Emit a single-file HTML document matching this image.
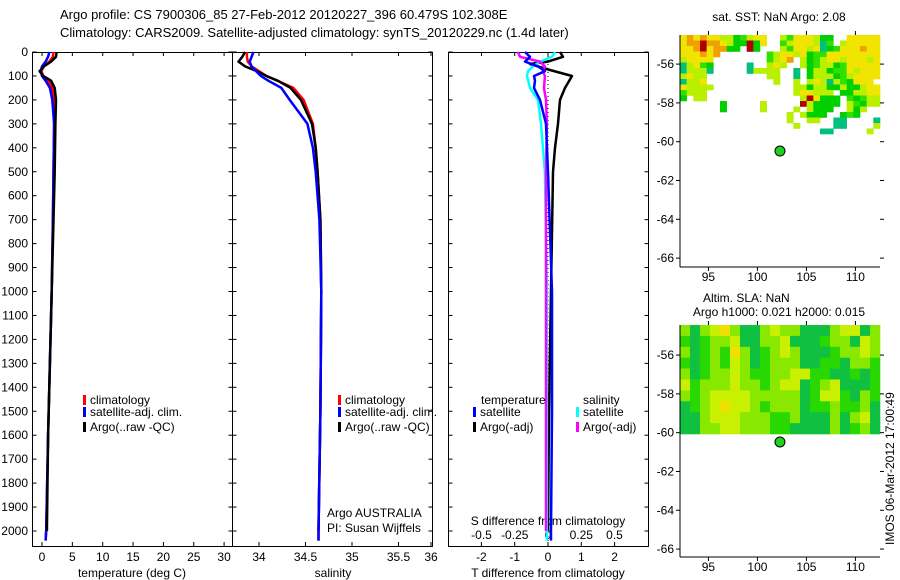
<!DOCTYPE html>
<html><head><meta charset="utf-8"><style>
html,body{margin:0;padding:0;background:#fff}
svg{display:block;font-family:"Liberation Sans",sans-serif}
text{font-size:12px;fill:#000}
</style></head><body>
<svg id="c" width="900" height="580" viewBox="0 0 900 580">
<text x="60" y="19" style="font-size:13px">Argo profile: CS 7900306_85 27-Feb-2012 20120227_396 60.479S 102.308E</text>
<text x="60" y="37" style="font-size:13px">Climatology: CARS2009. Satellite-adjusted climatology: synTS_20120229.nc (1.4d later)</text>
</svg>
<script>
const NS='http://www.w3.org/2000/svg';
const svg=document.getElementById('c');
// ---- data ----
const tDepths=[0,20,40,60,80,100,120,150,200,300,500,700,1000,1300,1600,2000,2040];
const tClim=[1.9,1.8,1.2,0.3,-0.1,0.2,1.0,1.7,2.0,2.0,1.9,1.8,1.6,1.3,1.0,0.7,0.6];
const tSat=[1.2,1.0,0.6,0.0,-0.2,0.0,0.6,1.3,1.7,2.0,1.9,1.8,1.6,1.3,1.0,0.7,0.6];
const tArgoDepths=[0,20,40,60,80,100,120,150,200,300,500,700,1000,1300,1600,2000];
const tArgo=[2.4,2.3,1.5,0.3,-0.4,0.2,1.5,2.1,2.3,2.2,2.1,1.9,1.6,1.3,1.0,0.8];
const sDepths=[0,20,40,60,80,100,120,150,200,300,400,500,700,1000,1500,2000,2040];
const sClim=[33.87,33.87,33.88,33.92,34.0,34.08,34.2,34.37,34.48,34.58,34.61,34.63,34.66,34.67,34.66,34.64,34.64];
const sSat=[33.94,33.92,33.9,33.92,33.97,34.02,34.1,34.24,34.33,34.52,34.58,34.61,34.65,34.67,34.66,34.64,34.64];
const sArgoDepths=[0,20,40,60,80,100,120,150,200,300,400,500,700,1000,1500,2000];
const sArgo=[33.85,33.82,33.78,33.85,33.98,34.08,34.2,34.34,34.45,34.57,34.61,34.63,34.66,34.67,34.66,34.64];
const dtSatDepths=[0,20,40,60,80,100,120,150,200,300,500,1000,1500,2000,2040];
const dtSat=[-0.69,-0.54,-0.69,-0.30,-0.09,-0.42,-0.39,-0.42,-0.24,-0.06,0,0.12,0.12,0.09,0.09];
const dtArgoDepths=[0,20,40,50,75,100,150,200,300,400,500,1000,1500,2000];
const dtArgo=[0.36,0.45,0,-0.54,0.06,0.72,0.51,0.36,0.30,0.21,0.15,0.09,0.03,0];
const dsSatDepths=[0,20,40,60,80,100,150,200,300,500,1000,2000,2040];
const dsSat=[0.053,0.03,-0.06,-0.113,-0.15,-0.158,-0.135,-0.075,-0.053,-0.023,-0.008,-0.008,-0.008];
const dsArgoDepths=[0,20,40,60,80,100,150,200,300,500,1000,2000];
const dsArgo=[-0.226,-0.21,-0.06,-0.023,-0.038,-0.023,-0.03,-0.015,-0.008,-0.015,-0.015,-0.015];
const depthTicks=[0,100,200,300,400,500,600,700,800,900,1000,1100,1200,1300,1400,1500,1600,1700,1800,1900,2000];
const tTicks=[0,5,10,15,20,25,30];
const sTicks=[34,34.5,35,35.5,36];
const dtTicks=[-2,-1,0,1,2];
const dsTicks=[-0.5,-0.25,0,0.25,0.5];
const dsTickLabels=['-0.5','-0.25','0','0.25','0.5'];
const latTicks=[-56,-58,-60,-62,-64,-66];
const lonTicks=[95,100,105,110];
const argoLon=102.3, argoLat=-60.48;
const sstRows=[
"yoyoyyllgGlyy..lGyyylgg..yyyyy",
"yoorooylggrgy..GlyyyltG.lyyyyy",
"yyoryoogg.rg...lGyylytgGyyyoyy",
"yyyoyo.......GlyylygGGyyyyyyyy",
"lyyyy........Glyo.lgGlyylyyyly",
"tlyGg.....t..lyl..lgGllgGyyyyy",
"tlllt.....tllll..t.gllgGGylyyy",
"lyll.........ll..t.glllgGlyyyy",
"tlly..........l..l.lyltlGgyyy.",
"yllll............llgllgglgglyy",
"Glll.............lyylll.ggllyy",
"g.ll..............lryggg.GgGll",
"......g.....l.....rlgggg.lGgll",
"......g.....l....l.lggg..lgl..",
"................l.lggg..gGg...",
"................l..ll..tt....t",
".................l.....tt....l",
".....................tt.....l."];
const slaRows=[
"lGlyYlGGlyllGGGlyyGl",
"gGgllyGGllyGGGgllGyl",
"lGglgYlGglylGGGgllyl",
"gGglgylGglllGGggGllg",
"lGgllylggllyyggGGgGg",
"yglllyllglyyGglyGGGg",
"lglyyyylllllGgyygGlg",
"GglyYyylglllGgglgglG",
"GGlyyylllgglGGGlGlyG",
"GGllyylllggGGGGlGglG"];
// ---- scales ----
const yD=d=>52+d*0.2395;
const xT=t=>42+t*6.07;
const xS=s=>259+(s-34)*93;
const xDT=t=>548+t*33.3;
const xDS=s=>548+s*133;
const xLon=l=>680+(l-92.1)*9.8;
const yLatTop=l=>35+(-54.5-l)*19.4;
const yLatBot=l=>325+(-54.45-l)*19.4;
const cmap={o:'#f0a000',y:'#f0e400',l:'#b8f000',g:'#00d000',G:'#30e000',t:'#00c080',r:'#b00000',Y:'#f0d000'};
const cmap2={l:'#88e800',g:'#28d800',G:'#10c040',y:'#c8f000',Y:'#f0e000'};
function el(tag,attrs,txt){const e=document.createElementNS(NS,tag);for(const k in attrs)e.setAttribute(k,attrs[k]);if(txt!==undefined)e.textContent=txt;svg.appendChild(e);return e;}
function line(x1,y1,x2,y2,name,extra){const e=el('line',Object.assign({x1,y1,x2,y2,stroke:'#000','stroke-width':1},extra||{}));

return e;}
function text(x,y,s,name,anchor,size){const e=el('text',{x,y,'text-anchor':anchor||'start'},s);if(size)e.style.fontSize=size+'px';

return e;}
function curve(depths,vals,xf,color,name){const pts=depths.map((d,i)=>xf(vals[i]).toFixed(1)+','+yD(d).toFixed(1)).join(' ');
const e=el('polyline',{points:pts,fill:'none',stroke:color,'stroke-width':2.5,'stroke-linejoin':'round'});

}
function rect(x,y,w,h,fill,name,stroke){const e=el('rect',{x,y,width:w,height:h,fill:fill,stroke:stroke||'none'});

return e;}
// ---- profile panels ----
const panels=[[32.5,232.5],[232.5,432.5],[448.5,648.5]];
panels.forEach((p,i)=>{rect(p[0],52.5,p[1]-p[0],494,'none','profile-panel-'+(i+1)+'-frame','#000');
depthTicks.forEach(d=>{line(p[0],yD(d),p[0]+4,yD(d),'depth-tick');line(p[1]-4,yD(d),p[1],yD(d),'depth-tick');});});
depthTicks.forEach(d=>text(28,yD(d)+4,String(d),'depth-tick-label','end'));
tTicks.forEach(t=>{line(xT(t),546,xT(t),542,'temp-tick');line(xT(t),52,xT(t),56,'temp-tick');text(xT(t),561,String(t),'temp-tick-label','middle');});
sTicks.forEach(s=>{const x=Math.min(xS(s),431);line(x,546,x,542,'sal-tick');line(x,52,x,56,'sal-tick');text(x,561,String(s),'sal-tick-label','middle');});
dtTicks.forEach(t=>{line(xDT(t),546,xDT(t),542,'tdiff-tick');text(xDT(t),561,String(t),'tdiff-tick-label','middle');});
dsTicks.forEach((s,i)=>{line(xDS(s),52,xDS(s),56,'sdiff-tick');text(xDS(s),539,dsTickLabels[i],'sdiff-tick-label','middle');});
text(132,577,'temperature (deg C)','x-axis-title-temperature','middle');
text(333,577,'salinity','x-axis-title-salinity','middle');
text(548,577,'T difference from climatology','x-axis-title-tdiff','middle');
text(548,525,'S difference from climatology','x-axis-title-sdiff','middle');
line(548,52,548,546,'zero-line',{'stroke-dasharray':'1,3'});
curve(tDepths,tClim,xT,'#ff0000','temp-climatology-line');
curve(tDepths,tSat,xT,'#0000ff','temp-satellite-line');
curve(tArgoDepths,tArgo,xT,'#000','temp-argo-line');
curve(sDepths,sClim,xS,'#ff0000','sal-climatology-line');
curve(sArgoDepths,sArgo,xS,'#000','sal-argo-line');
curve(sDepths,sSat,xS,'#0000ff','sal-satellite-line');
curve(dtArgoDepths,dtArgo,xDT,'#000','tdiff-argo-line');
curve(dsSatDepths,dsSat,xDS,'#00ffff','sdiff-satellite-line');
curve(dsArgoDepths,dsArgo,xDS,'#ff00ff','sdiff-argo-line');
curve(dtSatDepths,dtSat,xDT,'#0000ff','tdiff-satellite-line');
// legends
function leg(x,y,c,s,name){rect(x,y-9,3,10,c,name+'-marker');text(x+7,y,s,name);}
leg(83,404,'#ff0000','climatology','legend-climatology');
leg(83,416,'#0000ff','satellite-adj. clim.','legend-satellite');
leg(83,431,'#000','Argo(..raw -QC)','legend-argo');
leg(338,404,'#ff0000','climatology','legend2-climatology');
leg(338,416,'#0000ff','satellite-adj. clim.','legend2-satellite');
leg(338,431,'#000','Argo(..raw -QC)','legend2-argo');
text(481,404,'temperature','legend3-temperature-title');
leg(473,416,'#0000ff','satellite','legend3-temp-satellite');
leg(473,431,'#000','Argo(-adj)','legend3-temp-argo');
text(583,404,'salinity','legend3-salinity-title');
leg(576,416,'#00ffff','satellite','legend3-sal-satellite');
leg(576,431,'#ff00ff','Argo(-adj)','legend3-sal-argo');
text(327,517,'Argo AUSTRALIA','argo-agency-label');
text(327,532,'PI: Susan Wijffels','argo-pi-label');
// ---- maps ----
const sstTop=35, sstRowH=5.5, sstColW=200/30;
sstRows.forEach((r,j)=>{for(let i=0;i<r.length;i++){const ch=r[i];if(ch==='.')continue;
rect(680+i*sstColW,sstTop+j*sstRowH,sstColW+0.3,sstRowH+0.3,cmap[ch],'sst-cell');}});
const slaTop=325, slaRowH=(434-325)/10, slaColW=200/20;
slaRows.forEach((r,j)=>{for(let i=0;i<r.length;i++){rect(680+i*slaColW,slaTop+j*slaRowH,slaColW+0.3,slaRowH+0.3,cmap2[r[i]],'sla-cell');}});
[[35,267,yLatTop,'sst'],[325,557,yLatBot,'sla']].forEach(m=>{
line(680,m[0],680,m[1],m[3]+'-map-left-axis');line(680,m[1],880,m[1],m[3]+'-map-bottom-axis');
latTicks.forEach(l=>{const y=m[2](l);line(676,y,680,y,'lat-tick');line(880,y,884,y,'lat-tick');text(674,y+4,String(l),'lat-tick-label','end');});
lonTicks.forEach(l=>{const x=xLon(l);line(x,m[1],x,m[1]+4,'lon-tick');line(x,m[0]-4,x,m[0],'lon-tick');text(x,m[1]+14,String(l),'lon-tick-label','middle');});
const c=el('circle',{cx:xLon(argoLon),cy:m[2](argoLat),r:5,fill:'#20d020',stroke:'#000','stroke-width':1});

});
text(779,21,'sat. SST: NaN Argo: 2.08','sst-map-title','middle');
text(703,302,'Altim. SLA: NaN','sla-map-title');
text(779,316,'Argo h1000: 0.021 h2000: 0.015','sla-map-subtitle','middle');
const im=text(0,0,'IMOS 06-Mar-2012 17:00:49','imos-timestamp');
im.setAttribute('transform','translate(894,545) rotate(-90)');
</script>
</body></html>
